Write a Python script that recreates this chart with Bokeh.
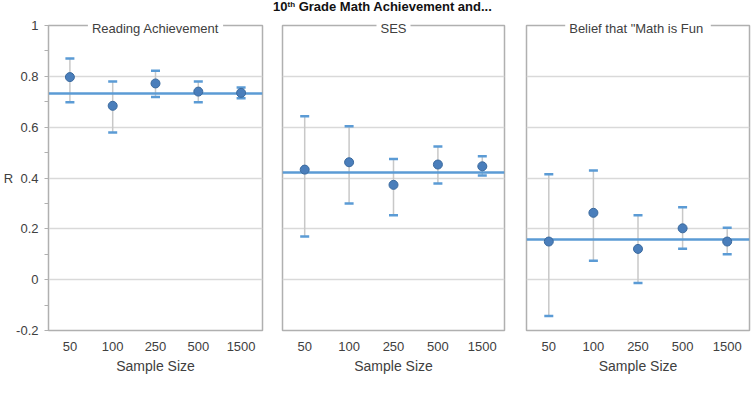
from bokeh.plotting import figure
from bokeh.layouts import row, column
from bokeh.models import Div, Title, FixedTicker, FactorRange, Range1d, ColumnDataSource
from bokeh.embed import file_html
from bokeh.resources import INLINE

# Sample sizes (categories on the x axis)
sample_sizes = ["50", "100", "250", "500", "1500"]

# Panel titles
panel_titles = ["Reading Achievement", "SES", "Belief  that \"Math is Fun"]

# Estimated correlation R at each sample size, with interval bounds
reading_r = [0.797, 0.684, 0.772, 0.740, 0.735]
reading_hi = [0.870, 0.780, 0.822, 0.780, 0.756]
reading_lo = [0.698, 0.579, 0.719, 0.698, 0.714]
reading_pop = 0.734

ses_r = [0.433, 0.462, 0.373, 0.453, 0.446]
ses_hi = [0.643, 0.604, 0.475, 0.524, 0.486]
ses_lo = [0.170, 0.300, 0.253, 0.378, 0.410]
ses_pop = 0.420

fun_r = [0.150, 0.263, 0.121, 0.202, 0.150]
fun_hi = [0.415, 0.430, 0.253, 0.285, 0.204]
fun_lo = [-0.143, 0.074, -0.013, 0.122, 0.100]
fun_pop = 0.159

# y axis ticks
y_ticks = [-0.2, 0.0, 0.2, 0.4, 0.6, 0.8, 1.0]
y_tick_labels = ["-0.2", "0", "0.2", "0.4", "0.6", "0.8", "1"]
y_minor = [-0.1, 0.1, 0.3, 0.5, 0.7, 0.9]

FONT = "Liberation Sans"
TEXT = "#404040"
FRAME_H = 305


def panel(title, r, hi, lo, pop, frame_w, left, right, show_y):
    p = figure(
        x_range=FactorRange(*sample_sizes, range_padding=0),
        y_range=Range1d(-0.2, 1.0),
        frame_width=frame_w, frame_height=FRAME_H,
        min_border_left=left, min_border_right=right,
        min_border_top=13, min_border_bottom=77,
        y_axis_location="left" if show_y else None,
        output_backend="svg", toolbar_location=None,
        background_fill_color="white", border_fill_color="white",
    )
    p.outline_line_color = "#b0b0b0"
    p.outline_line_width = 1.5

    # panel title sitting on the top edge of the frame
    p.title = Title(text=title, align="center", standoff=-28,
                    text_font=FONT, text_font_size="13px", text_font_style="normal",
                    text_color=TEXT, background_fill_color="white", padding=4)

    p.xgrid.visible = False
    p.ygrid.ticker = FixedTicker(ticks=y_ticks)
    p.ygrid.grid_line_color = "#d9d9d9"
    p.ygrid.grid_line_width = 1.5

    xa = p.xaxis[0]
    xa.axis_line_color = None
    xa.major_tick_line_color = None
    xa.minor_tick_line_color = None
    xa.major_label_standoff = 5
    xa.major_label_text_font = FONT
    xa.major_label_text_font_size = "13px"
    xa.major_label_text_color = TEXT
    xa.axis_label = "Sample Size"
    xa.axis_label_standoff = 4
    xa.axis_label_text_font = FONT
    xa.axis_label_text_font_size = "14px"
    xa.axis_label_text_font_style = "normal"
    xa.axis_label_text_color = TEXT

    if show_y:
        ya = p.yaxis[0]
        ya.ticker = FixedTicker(ticks=y_ticks, minor_ticks=y_minor)
        ya.major_label_overrides = {t: l for t, l in zip(y_ticks, y_tick_labels)}
        ya.axis_line_color = "#b0b0b0"
        ya.major_tick_line_color = "#b0b0b0"
        ya.minor_tick_line_color = "#b0b0b0"
        ya.major_tick_in = 0
        ya.major_tick_out = 4
        ya.minor_tick_in = 0
        ya.minor_tick_out = 4
        ya.major_label_standoff = 6
        ya.major_label_text_font = FONT
        ya.major_label_text_font_size = "13px"
        ya.major_label_text_color = TEXT
        ya.axis_label = "R"
        ya.axis_label_orientation = "horizontal"
        ya.axis_label_standoff = 0
        ya.axis_label_text_font = FONT
        ya.axis_label_text_font_size = "13px"
        ya.axis_label_text_font_style = "normal"
        ya.axis_label_text_color = TEXT

    src = ColumnDataSource(dict(x=sample_sizes, r=r, hi=hi, lo=lo))
    p.segment(x0="x", y0="lo", x1="x", y1="hi", source=src,
              line_color="#c8c8c8", line_width=1.5)
    p.hspan(y=[pop], line_color="#5b9bd5", line_width=2.5)
    p.scatter(x="x", y="hi", source=src, marker="dash", size=9,
              line_color="#5b9bd5", line_width=2.5)
    p.scatter(x="x", y="lo", source=src, marker="dash", size=9,
              line_color="#5b9bd5", line_width=2.5)
    p.scatter(x="x", y="r", source=src, marker="circle", size=9,
              fill_color="#4a7ebb", line_color="#3b6a9e", line_width=1)
    return p


p1 = panel(panel_titles[0], reading_r, reading_hi, reading_lo, reading_pop, 214, 48, 10, True)
p2 = panel(panel_titles[1], ses_r, ses_hi, ses_lo, ses_pop, 222, 10, 11, False)
p3 = panel(panel_titles[2], fun_r, fun_hi, fun_lo, fun_pop, 223, 11, 7, False)

title = Div(
    text=('<div style="position:relative; left:273px; top:-1px; white-space:nowrap; '
          'font-family:\'Liberation Sans\'; font-weight:bold; font-size:13px; '
          'line-height:13px; color:#111;">10<span style="font-size:8px; position:relative; '
          'top:-4px;">th</span> Grade Math Achievement and...</div>'),
    width=756, height=12, margin=0,
)

layout = column(title, row(p1, p2, p3), spacing=0)
open("out.html", "w").write(file_html(layout, INLINE))
